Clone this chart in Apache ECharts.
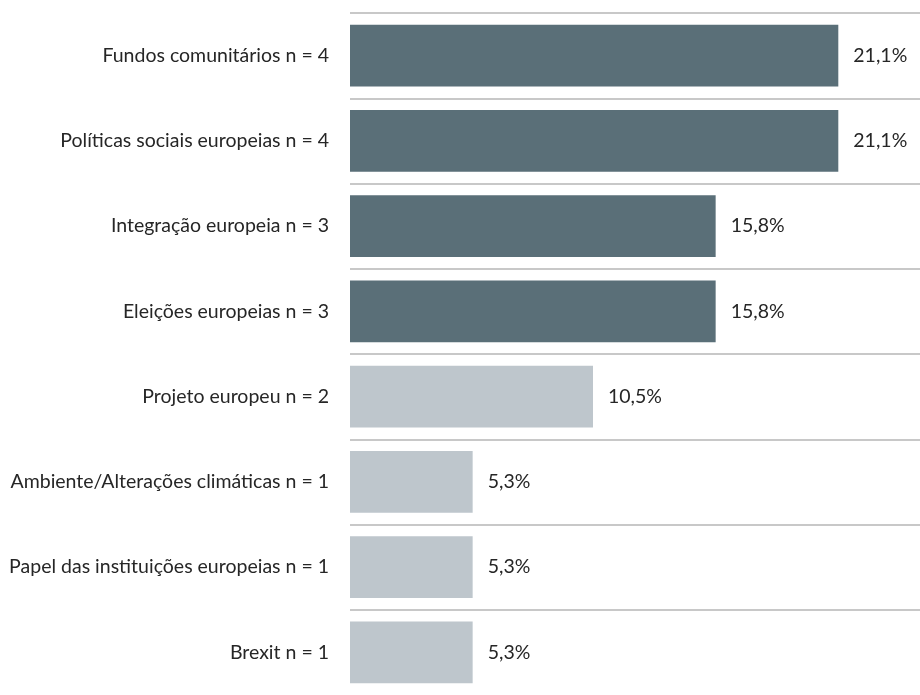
<!DOCTYPE html>
<html><head><meta charset="utf-8">
<script src="https://cdn.jsdelivr.net/npm/echarts@6/dist/echarts.min.js"></script>
<style>html,body{margin:0;padding:0;background:#fff}#c{width:920px;height:695px}</style>
</head><body><div id="c"></div>
<script>
const categories = [
  "Fundos comunitários n = 4",
  "Políticas sociais europeias n = 4",
  "Integração europeia n = 3",
  "Eleições europeias n = 3",
  "Projeto europeu n = 2",
  "Ambiente/Alterações climáticas n = 1",
  "Papel das instituições europeias n = 1",
  "Brexit n = 1"
];
const values = [21.1, 21.1, 15.8, 15.8, 10.5, 5.3, 5.3, 5.3];
const highlighted = [true, true, true, true, false, false, false, false];

const DARK = '#5a6f78', LIGHT = '#bec6cc';
const FONT = 'Lato';
const chart = echarts.init(document.getElementById('c'), null, {renderer: 'canvas'});
chart.setOption({
  animation: false,
  grid: {left: 350, right: 0, top: 13, height: 687, containLabel: false},
  xAxis: {type: 'value', min: 0, max: 24.63, show: false},
  yAxis: {
    type: 'category', data: categories, inverse: true,
    axisLine: {show: false}, axisTick: {show: false},
    axisLabel: {color: '#262626', fontSize: 19.5, fontFamily: FONT, margin: 21},
    splitLine: {show: true, showMaxLine: false, lineStyle: {color: '#c8c8c8', width: 2}}
  },
  series: [{
    type: 'bar',
    data: values.map((v, i) => ({value: v, itemStyle: {color: highlighted[i] ? DARK : LIGHT}})),
    barCategoryGap: '27.8%',
    label: {
      show: true, position: 'right', distance: 15,
      color: '#262626', fontSize: 19.5, fontFamily: FONT,
      formatter: p => p.value.toFixed(1).replace('.', ',') + '%'
    }
  }]
});
</script></body></html>
